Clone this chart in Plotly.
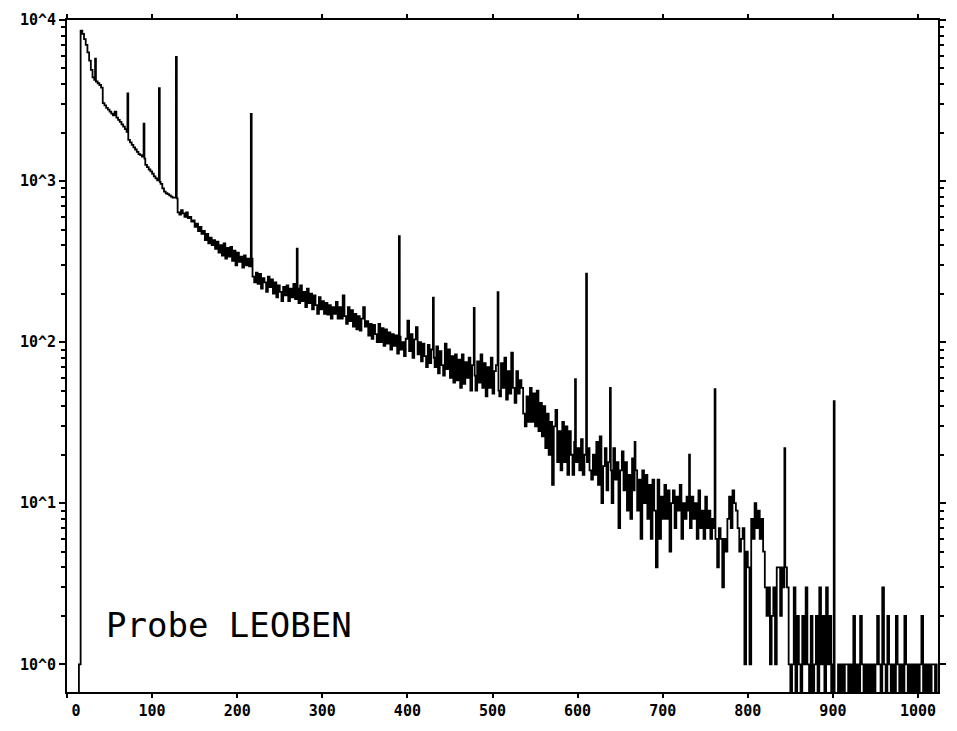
import numpy as np
import plotly.graph_objects as go

# Counts per channel, read in 2-channel steps (each value covers channels 2i and 2i+1)
counts_2ch = [
    0, 0, 0, 0, 0, 0, 0, 1,                                   # 0-15
    8600, 8200, 7600, 7000, 6300, 5600, 4900, 4400,           # 16-31
    4250, 4150, 4050, 3950, 3800, 3050, 2950, 2850,           # 32-47
    2780, 2700, 2620, 2560, 2700, 2480, 2400, 2330,           # 48-63
    2250, 2180, 2100, 2020, 1800, 1740, 1680, 1620,           # 64-79
    1570, 1520, 1470, 1450, 1420, 1380, 1260, 1220,           # 80-95
    1180, 1150, 1110, 1070, 1040, 1010, 990, 960,             # 96-111
    900, 860, 840, 830, 815, 800, 790, 790,                   # 112-127
    780, 640, 620, 660, 630, 600, 640, 590,                   # 128-143
    600, 560, 570, 520, 545, 490, 520, 470,                   # 144-159
    490, 430, 470, 410, 445, 400, 430, 380,                   # 160-175
    420, 360, 400, 345, 410, 330, 385, 340,                   # 176-191
    390, 320, 370, 300, 360, 315, 340, 290,                   # 192-207
    345, 300, 330, 295, 330, 255, 235, 270,                   # 208-223
    230, 265, 215, 250, 235, 205, 255, 220,                   # 224-239
    245, 200, 235, 190, 225, 205, 180, 220,                   # 240-255
    195, 225, 180, 215, 190, 230, 185, 215,                   # 256-271
    175, 225, 180, 205, 165, 215, 175, 200,                   # 272-287
    160, 195, 170, 150, 190, 160, 180, 150,                   # 288-303
    175, 148, 170, 140, 165, 150, 178, 140,                   # 304-319
    165, 140, 195, 145, 130, 165, 135, 158,                   # 320-335
    125, 150, 120, 145, 118, 140, 165, 125,                   # 336-351
    135, 110, 130, 105, 128, 112, 100, 130,                   # 352-367
    100, 122, 95, 120, 98, 115, 90, 112,                      # 368-383
    95, 110, 85, 108, 90, 100, 82, 105,                       # 384-399
    136, 88, 112, 80, 104, 124, 84, 100,                      # 400-415
    76, 98, 82, 70, 96, 74, 90, 80,                           # 416-431
    70, 94, 64, 88, 72, 62, 98, 68,                           # 432-447
    90, 60, 82, 56, 84, 58, 78, 52,                           # 448-463
    84, 55, 75, 60, 80, 50, 72, 62,                           # 464-479
    50, 76, 56, 84, 52, 74, 46, 70,                           # 480-495
    52, 80, 48, 66, 72, 50, 46, 74,                           # 496-511
    52, 80, 44, 66, 48, 86, 52, 42,                           # 512-527
    66, 48, 58, 52, 36, 30, 46, 32,                           # 528-543
    52, 32, 48, 30, 50, 28, 42, 26,                           # 544-559
    40, 22, 36, 20, 32, 13, 30, 38,                           # 560-575
    18, 28, 16, 32, 18, 30, 15, 28,                           # 576-591
    20, 15, 24, 18, 22, 16, 25, 15,                           # 592-607
    20, 18, 22, 16, 14, 20, 15, 24,                           # 608-623
    13, 26, 10, 17, 22, 12, 18, 16,                           # 624-639
    10, 22, 14, 18, 7, 16, 21, 12,                            # 640-655
    18, 9, 15, 8, 19, 12, 16, 9,                              # 656-671
    14, 6, 16, 10, 15, 8, 13, 6,                              # 672-687
    14, 9, 4, 14, 6, 11, 8, 13,                               # 688-703
    8, 12, 5, 10, 12, 7, 11, 9,                               # 704-719
    13, 6, 10, 8, 11, 9, 7, 11,                               # 720-735
    8, 10, 6, 12, 7, 9, 6, 11,                                # 736-751
    7, 9, 6, 8, 7, 6, 4, 7,                                   # 752-767
    6, 3, 6, 5, 8, 11, 7, 12,                                 # 768-783
    10, 9, 7, 5, 6, 7, 1, 5,                                  # 784-799
    4, 1, 8, 6, 10, 7, 9, 6,                                  # 800-815
    8, 5, 3, 2, 3, 1, 2, 3,                                   # 816-831
    1, 4, 4, 2, 4, 3, 4, 3,                                   # 832-847
    1, 0, 1, 3, 0, 2, 1, 0,                                   # 848-863
    2, 1, 3, 1, 0, 2, 0, 1,                                   # 864-879
    2, 0, 3, 1, 2, 0, 3, 1,                                   # 880-895
    2, 0, 1, 0, 0, 1, 0, 1,                                   # 896-911
    0, 1, 1, 0, 1, 0, 2, 0,                                   # 912-927
    1, 0, 2, 1, 0, 1, 0, 1,                                   # 928-943
    0, 1, 0, 1, 2, 1, 0, 3,                                   # 944-959
    1, 0, 2, 1, 0, 1, 0, 2,                                   # 960-975
    1, 0, 1, 0, 2, 1, 0, 1,                                   # 976-991
    0, 1, 0, 1, 0, 1, 2, 0,                                   # 992-1007
    1, 0, 1, 0, 1, 1, 0, 1,                                   # 1008-1023
]

# Single-channel gamma peaks
peak_channels = [33, 71, 90, 108, 128, 216, 270, 390, 430, 478, 506,
                 597, 610, 638, 667, 731, 761, 843, 901]
peak_counts = [5750, 3500, 2270, 3780, 5900, 2610, 380, 455, 189, 163, 204,
               59, 266, 52, 24, 20, 51, 22, 43]

y_tick_vals = [1, 10, 100, 1000, 10000]
y_tick_text = ["10^0", "10^1", "10^2", "10^3", "10^4"]
x_tick_vals = list(range(0, 1001, 100))
x_tick_text = ["\u00a0\u00a00"] + [str(v) for v in x_tick_vals[1:]]
label_text = "Probe LEOBEN"

channels = np.arange(1024)
counts = np.repeat(np.array(counts_2ch, dtype=float), 2)
counts[peak_channels] = peak_counts
# zero counts are drawn down to (below) the bottom frame on the log axis
plot_counts = np.where(counts > 0, counts, 0.3)

fig = go.Figure()
fig.add_trace(go.Scatter(
    x=channels, y=plot_counts, mode="lines",
    line=dict(color="black", width=1.8, shape="hv"),
    hoverinfo="skip", showlegend=False,
))

minor_vals = [m * 10 ** k for k in range(0, 4) for m in range(2, 10)]
tick_font = dict(family="DejaVu Sans Mono", size=15, color="black", weight="bold")

fig.update_layout(
    width=957, height=731,
    margin=dict(l=67, r=11, t=17, b=36),
    paper_bgcolor="white", plot_bgcolor="white",
    showlegend=False,
    xaxis=dict(
        range=[0, 1023.5], tickmode="array", tickvals=x_tick_vals, ticktext=x_tick_text,
        ticks="outside", ticklen=4, tickwidth=1.5, tickcolor="black",
        showline=True, linewidth=2, linecolor="black", mirror="allticks",
        showgrid=False, zeroline=False, tickfont=tick_font,
    ),
    yaxis=dict(
        type="log", range=[-0.172, 4.0], tickmode="array",
        tickvals=y_tick_vals, ticktext=y_tick_text,
        ticks="outside", ticklen=6, tickwidth=1.5, tickcolor="black",
        minor=dict(tickmode="array", tickvals=minor_vals, ticks="outside",
                   ticklen=4, tickwidth=1.5, tickcolor="black", showgrid=False),
        showline=True, linewidth=2, linecolor="black", mirror="allticks",
        showgrid=False, zeroline=False, tickfont=tick_font,
    ),
    annotations=[dict(
        text=label_text, xref="paper", yref="paper", x=0.043, y=0.10,
        xanchor="left", yanchor="middle", showarrow=False,
        font=dict(family="DejaVu Sans Mono", size=34, color="black"),
    )],
)

fig.write_html("out.html")
